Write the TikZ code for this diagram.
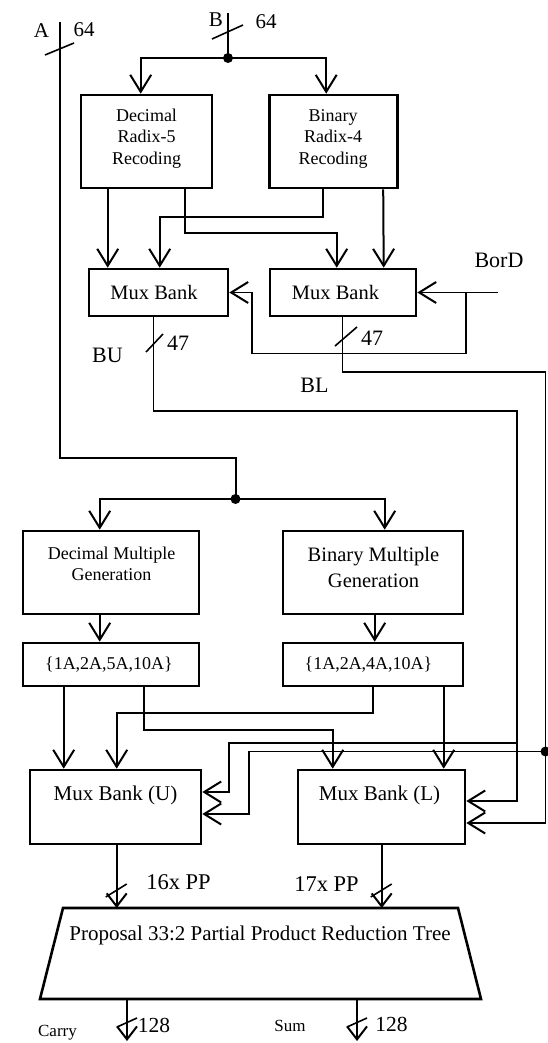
\documentclass[tikz,border=0pt]{standalone}
\usepackage{fontspec}
\setmainfont{Liberation Serif}
\usetikzlibrary{arrows.meta,calc}

\tikzset{
  box/.style={draw, line width=2.6pt, inner sep=0pt},
  wire/.style={line width=2pt},
  route/.style={line width=1.5pt},
  tip/.style={-{Straight Barb[length=17pt,width=21pt,line width=2pt]}},
  bustip/.style={-{Straight Barb[length=13pt,width=20pt,line width=2pt]}},
  slash/.style={line width=1.6pt},
  jdot/.style={circle, fill=black, inner sep=0pt, minimum size=10pt},
  txt/.style={inner sep=0pt, align=center},
  tA/.style={txt, font=\fontsize{21}{24}\selectfont},
  tRec/.style={txt, font=\fontsize{18}{21.5}\selectfont},
  tMux/.style={txt, font=\fontsize{20.5}{24}\selectfont},
  tSig/.style={txt, font=\fontsize{22}{26}\selectfont},
  tDM/.style={txt, font=\fontsize{18}{21}\selectfont},
  tBM/.style={txt, font=\fontsize{20.5}{26}\selectfont},
  tSet/.style={txt, font=\fontsize{18}{21}\selectfont},
  tMuxB/.style={txt, font=\fontsize{21}{24}\selectfont},
  tPP/.style={txt, font=\fontsize{22.5}{26}\selectfont},
  tTree/.style={txt, font=\fontsize{21}{24}\selectfont},
  tNum/.style={txt, font=\fontsize{21.5}{24}\selectfont},
  tSmall/.style={txt, font=\fontsize{17}{20}\selectfont},
}

\begin{document}
\begin{tikzpicture}[x=1pt,y=-1pt]
\useasboundingbox (0,0) rectangle (547,1043);

% ---------- blocks ----------
\node[box, minimum width=131, minimum height=93] (dr) at (146.5,141.5) {};
\node[box, minimum width=128, minimum height=93] (br) at (333.5,141.5) {};
\node[box, minimum width=139, minimum height=47] (mu1) at (158.5,292.5) {};
\node[box, minimum width=146, minimum height=47] (mu2) at (343,292.5) {};
\node[box, minimum width=176, minimum height=83] (dmg) at (111,572.5) {};
\node[box, minimum width=180, minimum height=83] (bmg) at (373,572.5) {};
\node[box, minimum width=176, minimum height=43] (dset) at (111,664.5) {};
\node[box, minimum width=180, minimum height=43] (bset) at (373,664.5) {};
\node[box, minimum width=171, minimum height=74] (mxu) at (115.5,807) {};
\node[box, minimum width=167, minimum height=74] (mxl) at (381.5,807) {};

% reduction tree outline
\coordinate (tNW) at (63,908);
\coordinate (tNE) at (458,908);
\coordinate (tSE) at (481,999);
\coordinate (tSW) at (40,999);
\draw[line width=2.6pt, line join=miter] (tNW) -- (tNE) -- (tSE) -- (tSW) -- cycle;

% ---------- block texts ----------
\node[tRec] (drt) at (146.5,138.5) {Decimal\\Radix-5\\Recoding};
\node[tRec] (brt) at (333,138.5) {Binary\\Radix-4\\Recoding};
\node[tMux] (mu1t) at (154,292) {Mux Bank};
\node[tMux] (mu2t) at (335.5,292) {Mux Bank};
\node[tDM] (dmgt) at (111.5,563.5) {Decimal Multiple\\Generation};
\node[tBM] (bmgt) at (373.5,567) {Binary Multiple\\Generation};
\node[tSet] (dsett) at (109,665) {\{1A,2A,5A,10A\}};
\node[tSet] (bsett) at (368.5,665) {\{1A,2A,4A,10A\}};
\node[tMuxB] (mxut) at (115.5,795) {Mux Bank (U)};
\node[tMuxB] (mxlt) at (379.5,795) {Mux Bank (L)};
\node[tTree] (tree) at (260,935) {Proposal 33:2 Partial Product Reduction Tree};

% ---------- operand B and recoding ----------
\coordinate (Bin) at (228,13);
\node[jdot] (Bj) at (228,58) {};
\draw[wire] (Bin) -- (Bj.center);
\draw[slash] (212,39) -- (243,25);
\node[tA] (Blab) at (216,20) {B};
\node[tA] (Bw) at (266,22) {64};
\draw[wire,tip] (Bj.center) -| ([xshift=61]dr.north west);
\draw[wire,tip] (Bj.center) -| ([xshift=58]br.north west);

\draw[wire,tip] ([xshift=28]dr.south west) -- ([xshift=20]mu1.north west);
\draw[wire,tip] ([xshift=105]dr.south west) -- ++(0,44) -| ([xshift=68]mu2.north west);
\draw[wire,tip] ([xshift=55]br.south west) -- ++(0,28) -| ([xshift=72]mu1.north west);
\draw[wire,tip] ([xshift=115]br.south west) -- ([xshift=115]mu2.north west);

% BorD select
\coordinate (bord) at (498,292.5);
\coordinate (bj2) at (466,292.5);
\node[tSig] (bordt) at (499,260) {BorD};
\draw[route,tip] (bord) -- (mu2.east);
\draw[route,tip] (bj2) -- ++(0,61) -- ++(-214,0) |- (mu1.east);

% ---------- BU / BL buses ----------
\coordinate (bu0) at ([xshift=66]mu1.south west);
\coordinate (buc) at (517,411);
\coordinate (buj) at (517,743);
\draw[route] (bu0) |- (buc) -- (buj);
\draw[slash] (146,352) -- (163,334);
\node[tSig] (bun) at (178,343) {47};
\node[tSig] (bul) at (107.5,355) {BU};
\draw[route,tip] (buj) |- ([yshift=6]mxl.east);
\draw[route,tip] (buj) -- (229,743) |- ([yshift=15]mxu.east);

\coordinate (bl0) at ([xshift=74]mu2.south west);
\coordinate (blc) at (545.5,372);
\node[jdot] (blj) at (545.5,751.5) {};
\draw[route,tip] (bl0) |- (blc) |- ([yshift=-16]mxl.east);
\draw[slash] (335,346) -- (357,327);
\node[tSig] (bln) at (372,338) {47};
\node[tSig] (bll) at (314.5,385) {BL};
\draw[route,tip] (blj.center) -- (249,751.5) |- ([yshift=-7]mxu.east);

% ---------- operand A and multiples ----------
\coordinate (Ain) at (60,22);
\node[jdot] (Aj) at (235.5,499) {};
\draw[wire] (Ain) |- (235.5,458) -- (Aj.center);
\draw[slash] (45,55) -- (74,43);
\node[tA] (Alab) at (41.5,31) {A};
\node[tA] (Aw) at (84,30) {64};
\draw[wire,tip] (Aj.center) -| ([xshift=78]dmg.north west);
\draw[wire,tip] (Aj.center) -| ([xshift=103]bmg.north west);

\draw[wire,tip] ([xshift=78]dmg.south west) -- ([xshift=78]dset.north west);
\draw[wire,tip] ([xshift=93]bmg.south west) -- ([xshift=93]bset.north west);

\draw[wire,tip] ([xshift=42]dset.south west) -- ([xshift=35]mxu.north west);
\draw[wire,tip] ([xshift=122]dset.south west) -- ++(0,43) -| ([xshift=36]mxl.north west);
\draw[wire,tip] ([xshift=91]bset.south west) -- ++(0,26) -| ([xshift=88]mxu.north west);
\draw[wire,tip] ([xshift=162]bset.south west) -- ([xshift=147]mxl.north west);

% ---------- partial products into the tree ----------
\coordinate (pu) at ([xshift=88]mxu.south west);
\coordinate (pl) at ([xshift=85]mxl.south west);
\coordinate (pu2) at (pu |- tNW);
\coordinate (pl2) at (pl |- tNW);
\draw[wire,bustip] (pu) -- (pu2);
\draw[wire,bustip] (pl) -- (pl2);
\draw[slash] ($(pu2)+(-11,-11)$) -- ++(21,-13);
\draw[slash] ($(pl2)+(-11,-11)$) -- ++(21,-13);
\node[tPP] (ppu) at (178.5,882) {16x PP};
\node[tPP] (ppl) at (326.5,884) {17x PP};

% ---------- carry and sum outputs ----------
\coordinate (co) at (127,1041);
\coordinate (so) at (357,1041);
\draw[wire,bustip] (co |- tSW) -- (co);
\draw[wire,bustip] (so |- tSW) -- (so);
\draw[slash] ($(co)+(-10,-14)$) -- ++(20,-9);
\draw[slash] ($(so)+(-10,-14)$) -- ++(20,-9);
\node[tNum] (cn) at (154,1025) {128};
\node[tNum] (sn) at (391.5,1024) {128};
\node[tSmall] (cl) at (57.5,1033) {Carry};
\node[tSmall] (sl) at (290,1026) {Sum};
\end{tikzpicture}
\end{document}
